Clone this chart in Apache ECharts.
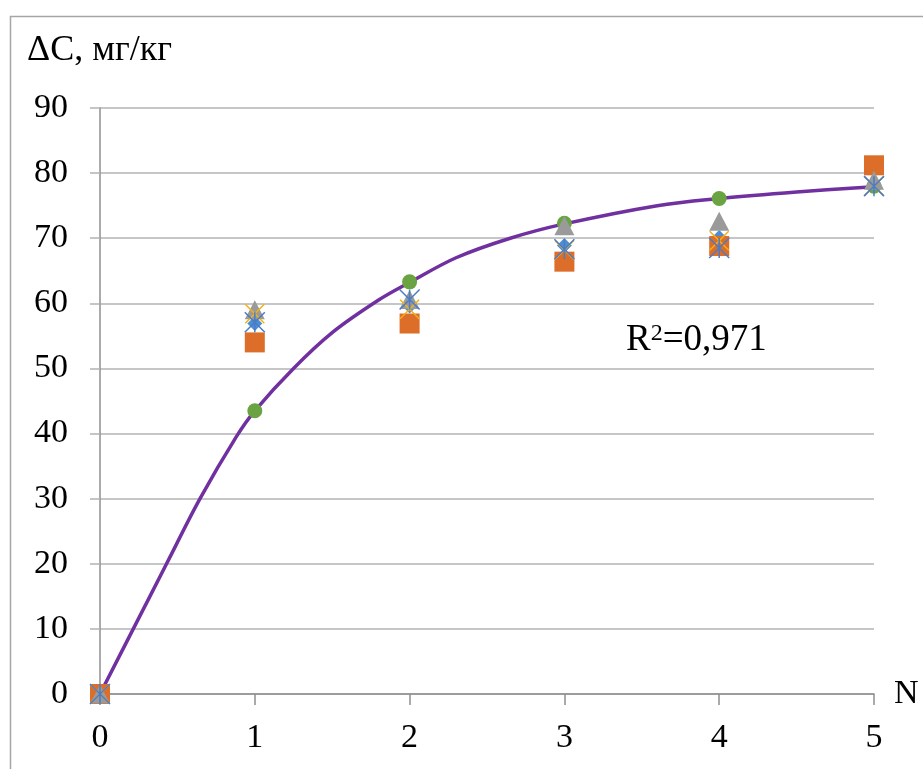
<!DOCTYPE html>
<html>
<head>
<meta charset="utf-8">
<script src="https://cdn.jsdelivr.net/npm/echarts@6/dist/echarts.min.js"></script>
<style>
  html, body { margin: 0; padding: 0; background: #fff; }
  #chart { width: 923px; height: 769px; }
</style>
</head>
<body>
<div id="chart"></div>
<script>
// passes N
const passes = [0, 1, 2, 3, 4, 5];

// measured ΔC, mg/kg for each sample series
const diamondVals = [0, 56.9, 59.6, 68.9, 70.1, 78.3];
const squareVals = [0, 54.0, 56.9, 66.4, 68.8, 81.2];
const triangleVals = [0, 59.0, 60.6, 71.9, 72.6, 78.9];
const crossVals = [0, 58.4, 59.1, 68.2, 69.6, 78.0];
const starVals = [0, 57.1, 60.6, 68.3, 68.5, 78.0];
const circleVals = [0, 43.5, 63.3, 72.3, 76.1, 78.0];

// trend curve
const trendX = [0, 0.215, 0.43, 0.646, 0.88, 1, 1.25, 1.5, 1.8, 2, 2.3, 2.65, 3, 3.6, 4, 4.5, 5];
const trendY = [0, 10, 20, 30, 39.5, 43.5, 50, 55.5, 60.5, 63.2, 67, 70, 72.2, 75, 76.1, 77.1, 77.9];

const yTicks = [0, 10, 20, 30, 40, 50, 60, 70, 80, 90];

const FONT = '"Liberation Serif", "Times New Roman", serif';
const GRID_GRAY = '#b3b3b3';
const AXIS_GRAY = '#8f8f8f';

function pairs(vals) {
    return passes.map((x, i) => [x, vals[i]]);
}

let chart = echarts.init(document.getElementById('chart'));

const crossPath = 'path://M0,0L10,10M10,0L0,10';
const starPath = 'path://M0,0L10,10M10,0L0,10M5,0L5,10';

let option = {
    animation: false,
    grid: { left: 100, right: 49, top: 108, bottom: 75 },
    xAxis: {
        type: 'value',
        min: 0, max: 5, interval: 1,
        name: 'N',
        nameLocation: 'end',
        nameGap: 20,
        nameTextStyle: { fontFamily: FONT, fontSize: 34, color: '#000', verticalAlign: 'middle' },
        axisLine: { show: true, lineStyle: { color: AXIS_GRAY, width: 1.5 } },
        axisTick: { show: true, length: 11, inside: false, lineStyle: { color: AXIS_GRAY, width: 1.5 } },
        splitLine: { show: false },
        axisLabel: { fontFamily: FONT, fontSize: 34, color: '#000', margin: 27 }
    },
    yAxis: {
        type: 'value',
        min: yTicks[0], max: yTicks[yTicks.length - 1], interval: 10,
        axisLine: { show: true, lineStyle: { color: AXIS_GRAY, width: 1.5 } },
        axisTick: { show: true, length: 10, inside: false, lineStyle: { color: GRID_GRAY, width: 1.5 } },
        splitLine: { show: true, lineStyle: { color: GRID_GRAY, width: 1.5 } },
        axisLabel: { fontFamily: FONT, fontSize: 34, color: '#000', margin: 32 }
    },
    graphic: [
        {
            type: 'rect', left: 8, top: 14, silent: true,
            shape: { width: 960, height: 800 },
            style: { fill: 'none', stroke: '#a6a6a6', lineWidth: 1.5 }
        },
        {
            type: 'text', left: 27, top: 33, silent: true,
            style: { text: 'ΔC, мг/кг', font: '36px ' + FONT, fill: '#000' }
        },
        {
            type: 'text', left: 626, top: 322, silent: true,
            style: {
                text: 'R{sup|2}=0,971',
                font: '37px ' + FONT, fill: '#000',
                rich: {
                    sup: { fontSize: 24, fontFamily: FONT, verticalAlign: 'top', padding: [0, 0, 13, 0] }
                }
            }
        }
    ],
    series: [
        {
            name: 'trend', type: 'line', z: 1,
            data: trendX.map((x, i) => [x, trendY[i]]),
            smooth: 0.35,
            showSymbol: false,
            lineStyle: { color: '#7030a0', width: 3.5 }
        },
        {
            name: 'circle', type: 'scatter', z: 2,
            data: pairs(circleVals), symbol: 'circle', symbolSize: 15,
            itemStyle: { color: '#6aa341', opacity: 1 }
        },
        {
            name: 'diamond', type: 'scatter', z: 3,
            data: pairs(diamondVals), symbol: 'diamond', symbolSize: [15, 15],
            itemStyle: { color: '#4f8fd0', opacity: 1 }
        },
        {
            name: 'square', type: 'scatter', z: 4,
            data: pairs(squareVals), symbol: 'rect', symbolSize: 20,
            itemStyle: { color: '#dd6e29', opacity: 1 }
        },
        {
            name: 'triangle', type: 'scatter', z: 5,
            data: pairs(triangleVals), symbol: 'triangle', symbolSize: [20, 19],
            itemStyle: { color: '#9a9a9a', opacity: 1 }
        },
        {
            name: 'cross', type: 'scatter', z: 6,
            data: pairs(crossVals), symbol: crossPath, symbolSize: 19,
            itemStyle: { color: 'transparent', borderColor: '#f2b116', borderWidth: 1.5, opacity: 1 }
        },
        {
            name: 'star', type: 'scatter', z: 7,
            data: pairs(starVals), symbol: starPath, symbolSize: 20,
            itemStyle: { color: 'transparent', borderColor: '#4a7cc8', borderWidth: 1.5, opacity: 1 }
        }
    ]
};

chart.setOption(option);
</script>
</body>
</html>
